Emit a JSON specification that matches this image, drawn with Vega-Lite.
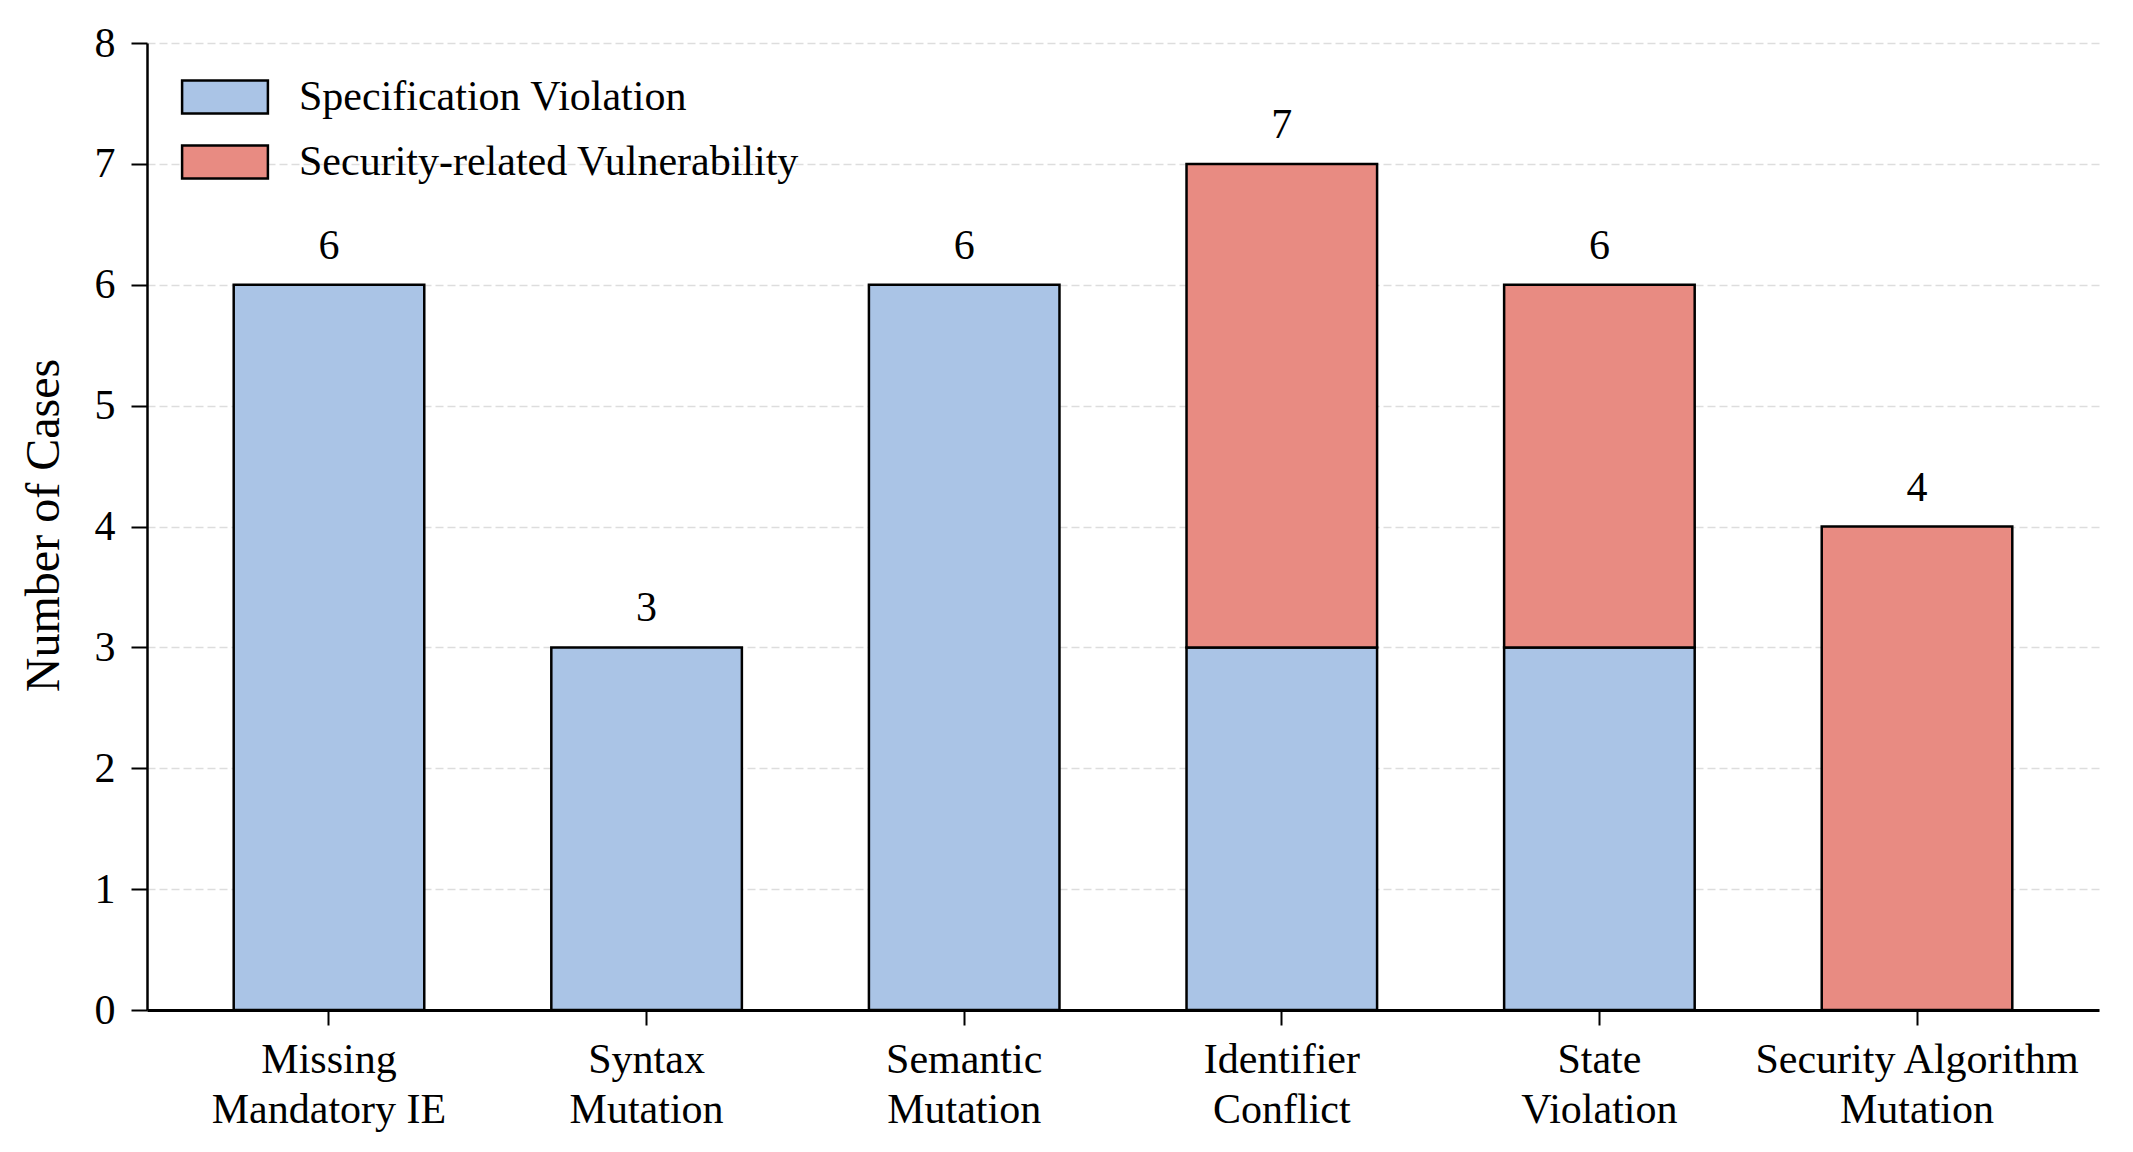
{
  "$schema": "https://vega.github.io/schema/vega-lite/v6.json",
  "autosize": {"type": "none"},
  "padding": {"left": 147, "top": 43, "right": 34, "bottom": 142},
  "width": 1952,
  "height": 967,
  "background": "white",
  "config": {
    "view": {"stroke": null},
    "font": "Liberation Serif",
    "axis": {"labelFont": "Liberation Serif", "titleFont": "Liberation Serif", "labelColor": "black", "titleColor": "black", "titleFontWeight": "normal"},
    "legend": {"labelFont": "Liberation Serif"}
  },
  "data": {
    "values": [
      {"category": "Missing Mandatory IE", "type": "Specification Violation", "count": 6},
      {"category": "Syntax Mutation", "type": "Specification Violation", "count": 3},
      {"category": "Semantic Mutation", "type": "Specification Violation", "count": 6},
      {"category": "Identifier Conflict", "type": "Specification Violation", "count": 3},
      {"category": "Identifier Conflict", "type": "Security-related Vulnerability", "count": 4},
      {"category": "State Violation", "type": "Specification Violation", "count": 3},
      {"category": "State Violation", "type": "Security-related Vulnerability", "count": 3},
      {"category": "Security Algorithm Mutation", "type": "Security-related Vulnerability", "count": 4}
    ]
  },
  "encoding": {
    "x": {
      "field": "category",
      "type": "nominal",
      "sort": ["Missing Mandatory IE", "Syntax Mutation", "Semantic Mutation", "Identifier Conflict", "State Violation", "Security Algorithm Mutation"],
      "scale": {"paddingInner": 0.4, "paddingOuter": 0.273},
      "axis": {
        "title": null,
        "labelAngle": 0,
        "labelFontSize": 42,
        "labelLineHeight": 50,
        "labelPadding": 14,
        "labelBaseline": "top",
        "labelLimit": 1000,
        "tickSize": 15,
        "tickWidth": 2,
        "tickColor": "black",
        "domainColor": "black",
        "domainWidth": 3,
        "labelExpr": "datum.value == 'Security Algorithm Mutation' ? ['Security Algorithm', 'Mutation'] : [slice(datum.value, 0, indexof(datum.value, ' ')), slice(datum.value, indexof(datum.value, ' ') + 1)]"
      }
    }
  },
  "layer": [
    {
      "mark": {"type": "bar", "stroke": "black", "strokeWidth": 2.5, "opacity": 1},
      "encoding": {
        "y": {
          "field": "count",
          "type": "quantitative",
          "aggregate": "sum",
          "stack": "zero",
          "scale": {"domain": [0, 8], "nice": false},
          "axis": {
            "title": "Number of Cases",
            "titleFontSize": 48,
            "titleAngle": -90,
            "titleX": -103,
            "titleY": 482,
            "titleAlign": "center",
            "titleBaseline": "middle",
            "values": [0, 1, 2, 3, 4, 5, 6, 7, 8],
            "format": "d",
            "labelFontSize": 42,
            "labelPadding": 16,
            "tickSize": 16,
            "tickWidth": 2,
            "tickColor": "black",
            "domainColor": "black",
            "domainWidth": 2.5,
            "grid": true,
            "gridColor": "#dddddd",
            "gridDash": [8, 4],
            "gridWidth": 1.5
          }
        },
        "color": {
          "field": "type",
          "type": "nominal",
          "sort": ["Specification Violation", "Security-related Vulnerability"],
          "scale": {"domain": ["Specification Violation", "Security-related Vulnerability"], "range": ["#aac4e6", "#e88b82"]},
          "legend": {
            "title": null,
            "orient": "none",
            "legendX": 57,
            "legendY": 33,
            "padding": 0,
            "symbolType": "M-2.6,-1H2.6V1H-2.6Z",
            "symbolSize": 1089,
            "symbolStrokeColor": "black",
            "symbolStrokeWidth": 2.5,
            "symbolOpacity": 1,
            "labelFontSize": 42,
            "labelColor": "black",
            "labelOffset": 53,
            "rowPadding": 21,
            "labelLimit": 1000
          }
        },
        "order": {"field": "type", "sort": "descending"}
      }
    },
    {
      "mark": {"type": "text", "baseline": "alphabetic", "dy": -26, "fontSize": 42, "font": "Liberation Serif", "color": "black"},
      "encoding": {
        "y": {"field": "count", "type": "quantitative", "aggregate": "sum"},
        "text": {"field": "count", "type": "quantitative", "aggregate": "sum"}
      }
    }
  ]
}
